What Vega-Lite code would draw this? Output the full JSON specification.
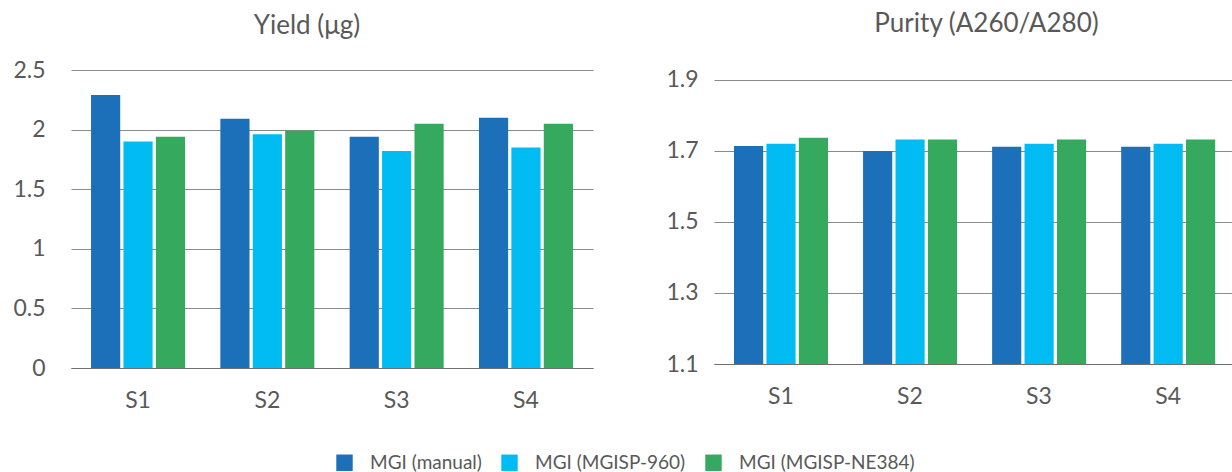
{
  "$schema": "https://vega.github.io/schema/vega-lite/v6.json",
  "padding": {"left": 12, "top": 10, "right": 0, "bottom": 0},
  "background": "white",
  "config": {
    "view": {"stroke": null},
    "font": "Lato",
    "axis": {"labelColor": "#595959", "labelFont": "Lato", "labelFontSize": 23},
    "title": {"font": "Lato", "fontSize": 26, "fontWeight": "normal", "color": "#595959"},
    "legend": {"labelFont": "Lato", "labelFontSize": 19, "labelColor": "#595959"}
  },
  "datasets": {
    "yield": [
      {"sample": "S1", "method": "MGI (manual)", "value": 2.29},
      {"sample": "S1", "method": "MGI (MGISP-960)", "value": 1.9},
      {"sample": "S1", "method": "MGI (MGISP-NE384)", "value": 1.94},
      {"sample": "S2", "method": "MGI (manual)", "value": 2.09},
      {"sample": "S2", "method": "MGI (MGISP-960)", "value": 1.96},
      {"sample": "S2", "method": "MGI (MGISP-NE384)", "value": 1.99},
      {"sample": "S3", "method": "MGI (manual)", "value": 1.94},
      {"sample": "S3", "method": "MGI (MGISP-960)", "value": 1.82},
      {"sample": "S3", "method": "MGI (MGISP-NE384)", "value": 2.05},
      {"sample": "S4", "method": "MGI (manual)", "value": 2.1},
      {"sample": "S4", "method": "MGI (MGISP-960)", "value": 1.85},
      {"sample": "S4", "method": "MGI (MGISP-NE384)", "value": 2.05}
    ],
    "purity": [
      {"sample": "S1", "method": "MGI (manual)", "value": 1.714},
      {"sample": "S1", "method": "MGI (MGISP-960)", "value": 1.72},
      {"sample": "S1", "method": "MGI (MGISP-NE384)", "value": 1.737},
      {"sample": "S2", "method": "MGI (manual)", "value": 1.7},
      {"sample": "S2", "method": "MGI (MGISP-960)", "value": 1.732},
      {"sample": "S2", "method": "MGI (MGISP-NE384)", "value": 1.732},
      {"sample": "S3", "method": "MGI (manual)", "value": 1.712},
      {"sample": "S3", "method": "MGI (MGISP-960)", "value": 1.72},
      {"sample": "S3", "method": "MGI (MGISP-NE384)", "value": 1.732},
      {"sample": "S4", "method": "MGI (manual)", "value": 1.712},
      {"sample": "S4", "method": "MGI (MGISP-960)", "value": 1.72},
      {"sample": "S4", "method": "MGI (MGISP-NE384)", "value": 1.732}
    ]
  },
  "spacing": 72,
  "resolve": {"scale": {"color": "shared"}, "legend": {"color": "shared"}},
  "hconcat": [
    {
      "width": 522,
      "height": 298,
      "title": {"text": "Yield (μg)", "offset": 20, "dx": -25},
      "data": {"name": "yield"},
      "mark": {"type": "bar"},
      "encoding": {
        "x": {
          "field": "sample", "type": "nominal",
          "scale": {"paddingInner": 0.273, "paddingOuter": 0.155},
          "axis": {"title": null, "labelAngle": 0, "domain": true, "domainColor": "#6f6f6f", "ticks": false, "labelPadding": 21}
        },
        "xOffset": {
          "field": "method", "type": "nominal",
          "sort": ["MGI (manual)", "MGI (MGISP-960)", "MGI (MGISP-NE384)"],
          "scale": {"paddingInner": 0.1, "paddingOuter": 0}
        },
        "y": {
          "field": "value", "type": "quantitative",
          "scale": {"domain": [0, 2.5]},
          "axis": {"title": null, "values": [0, 0.5, 1, 1.5, 2, 2.5], "format": "~g", "domain": false, "ticks": false, "grid": true, "gridColor": "#8a8a8a", "labelPadding": 26}
        },
        "color": {
          "field": "method", "type": "nominal",
          "scale": {"domain": ["MGI (manual)", "MGI (MGISP-960)", "MGI (MGISP-NE384)"], "range": ["#1b70b9", "#00bcf2", "#35a95e"]},
          "legend": {"title": null, "orient": "none", "direction": "horizontal", "legendX": 264, "legendY": 383, "symbolType": "square", "symbolSize": 270, "symbolStrokeWidth": 0, "symbolOpacity": 1, "labelOffset": 16, "columnPadding": 18, "labelLimit": 400}
        }
      }
    },
    {
      "width": 521,
      "height": 294,
      "title": {"text": "Purity (A260/A280)", "offset": 32, "dx": 12},
      "data": {"name": "purity"},
      "mark": {"type": "bar"},
      "encoding": {
        "x": {
          "field": "sample", "type": "nominal",
          "scale": {"paddingInner": 0.273, "paddingOuter": 0.155},
          "axis": {"title": null, "labelAngle": 0, "domain": true, "domainColor": "#6f6f6f", "ticks": false, "labelPadding": 21}
        },
        "xOffset": {
          "field": "method", "type": "nominal",
          "sort": ["MGI (manual)", "MGI (MGISP-960)", "MGI (MGISP-NE384)"],
          "scale": {"paddingInner": 0.1, "paddingOuter": 0}
        },
        "y": {
          "field": "value", "type": "quantitative",
          "scale": {"domain": [1.1, 1.928], "zero": false, "nice": false},
          "axis": {"title": null, "values": [1.1, 1.3, 1.5, 1.7, 1.9], "format": ".1f", "domain": false, "ticks": false, "grid": true, "gridColor": "#8a8a8a", "labelPadding": 16}
        },
        "y2": {"datum": 1.1},
        "color": {
          "field": "method", "type": "nominal",
          "scale": {"domain": ["MGI (manual)", "MGI (MGISP-960)", "MGI (MGISP-NE384)"], "range": ["#1b70b9", "#00bcf2", "#35a95e"]}
        }
      }
    }
  ]
}
